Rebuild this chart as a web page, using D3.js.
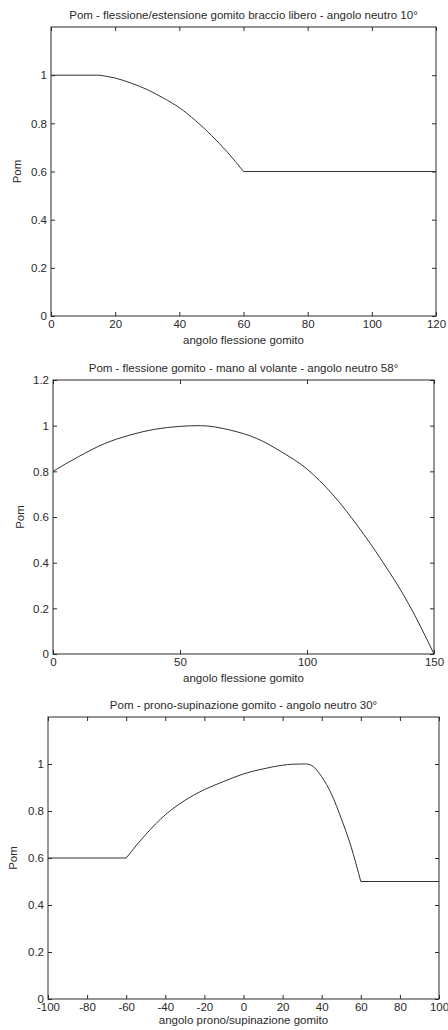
<!DOCTYPE html>
<html>
<head>
<meta charset="utf-8">
<script src="https://cdn.jsdelivr.net/npm/d3@7"></script>
<style>
  html, body { margin: 0; padding: 0; background: #fff; }
  svg { display: block; }
  text { font-family: "Liberation Sans", Arial, sans-serif; fill: #2a2a2a; }
</style>
</head>
<body>
<svg id="fig" width="448" height="1030"></svg>
<script>
// Elbow flexion/extension, free arm (neutral 10°)
const flexAngles = [0, 15, 20, 25, 30, 35, 40, 45, 50, 55, 60, 120];
const flexPom    = [1, 1, 0.988, 0.967, 0.94, 0.905, 0.865, 0.812, 0.75, 0.68, 0.6, 0.6];
const flexKinks  = [15, 60];

// Elbow flexion, hand on steering wheel (neutral 58°)
const wheelAngles = [0, 10, 20, 30, 40, 50, 58, 70, 80, 90, 100, 110, 120, 130, 140, 150];
const wheelPom    = [0.80, 0.864, 0.92, 0.958, 0.984, 0.997, 1.0, 0.98, 0.945, 0.885, 0.81, 0.70, 0.56, 0.40, 0.22, 0];
const wheelKinks  = [];

// Elbow prono-supination (neutral 30°)
const pronoAngles = [-100, -60, -50, -40, -30, -20, -10, 0, 10, 20, 25, 30, 32, 35, 40, 45, 50, 55, 60, 100];
const pronoPom    = [0.6, 0.6, 0.70, 0.784, 0.845, 0.891, 0.926, 0.958, 0.979, 0.995, 0.999, 1, 1, 0.993, 0.946, 0.872, 0.768, 0.649, 0.5, 0.5];
const pronoKinks  = [-60, 60];

// Tick values
const flexTicksX  = [0, 20, 40, 60, 80, 100, 120];
const wheelTicksX = [0, 50, 100, 150];
const pronoTicksX = [-100, -80, -60, -40, -20, 0, 20, 40, 60, 80, 100];
const pomTicks    = [0, 0.2, 0.4, 0.6, 0.8, 1];
const pomTicksFull = [0, 0.2, 0.4, 0.6, 0.8, 1, 1.2];

const titles = [
  "Pom - flessione/estensione gomito braccio libero - angolo neutro 10°",
  "Pom - flessione gomito - mano al volante - angolo neutro 58°",
  "Pom - prono-supinazione gomito - angolo neutro 30°"
];
const xLabels = ["angolo flessione gomito", "angolo flessione gomito", "angolo prono/supinazione gomito"];
const yLabel = "Pom";

const svg = d3.select("#fig");
svg.append("rect").attr("width", 448).attr("height", 1030).attr("fill", "#fff");

// plain hyphen-minus, as in the printed labels
const fmt = d => String(d);

// split a polyline into pieces at its kinks, so each smooth piece keeps sharp corners at the joins
function splitAtKinks(pts, kinks) {
  const pieces = [];
  let cur = [];
  pts.forEach(pt => {
    cur.push(pt);
    if (kinks.includes(pt[0]) && cur.length > 1) {
      pieces.push(cur);
      cur = [pt];
    }
  });
  if (cur.length > 1) pieces.push(cur);
  return pieces;
}

function drawPanel(p) {
  const x = d3.scaleLinear().domain(p.xDomain).range([p.left, p.right]);
  const y = d3.scaleLinear().domain([0, 1.2]).range([p.bottom, p.top]);
  const g = svg.append("g");

  // frame
  g.append("rect")
    .attr("x", p.left).attr("y", p.top)
    .attr("width", p.right - p.left).attr("height", p.bottom - p.top)
    .attr("fill", "#fff").attr("stroke", "#2a2a2a").attr("stroke-width", 1);

  const styleAxis = sel => {
    sel.select(".domain").remove();
    sel.selectAll("line").attr("stroke", "#2a2a2a");
    sel.selectAll("text").attr("font-size", 11.5).attr("fill", "#2a2a2a")
      .style("font-family", "'Liberation Sans', Arial, sans-serif");
  };

  // bottom axis with labels, inward ticks
  g.append("g").attr("transform", `translate(0,${p.bottom})`)
    .call(d3.axisBottom(x).tickValues(p.xTicks).tickFormat(fmt).tickSizeInner(-4).tickSizeOuter(0).tickPadding(4))
    .call(styleAxis);
  // top axis, ticks only
  g.append("g").attr("transform", `translate(0,${p.top})`)
    .call(d3.axisTop(x).tickValues(p.xTicks).tickFormat("").tickSizeInner(-4).tickSizeOuter(0))
    .call(styleAxis);
  // left axis with labels
  g.append("g").attr("transform", `translate(${p.left},0)`)
    .call(d3.axisLeft(y).tickValues(p.yTicks).tickFormat(fmt).tickSizeInner(-4).tickSizeOuter(0).tickPadding(4))
    .call(styleAxis);
  // right axis, ticks only
  g.append("g").attr("transform", `translate(${p.right},0)`)
    .call(d3.axisRight(y).tickValues(p.yTicks).tickFormat("").tickSizeInner(-4).tickSizeOuter(0))
    .call(styleAxis);

  // curve
  const pts = p.xs.map((v, i) => [v, p.ys[i]]);
  const line = d3.line().x(d => x(d[0])).y(d => y(d[1])).curve(d3.curveMonotoneX);
  const d = splitAtKinks(pts, p.kinks).map(piece => line(piece)).join("");
  g.append("path")
    .attr("fill", "none")
    .attr("stroke", "#333")
    .attr("stroke-width", 1)
    .attr("stroke-linejoin", "miter")
    .attr("d", d);

  // title
  g.append("text")
    .attr("x", (p.left + p.right) / 2).attr("y", p.top - 8)
    .attr("text-anchor", "middle").attr("font-size", 11.5)
    .text(p.title);
  // x label
  g.append("text")
    .attr("x", (p.left + p.right) / 2).attr("y", p.bottom + p.xLabelOffset)
    .attr("text-anchor", "middle").attr("font-size", 11.5)
    .text(p.xLabel);
  // y label
  g.append("text")
    .attr("transform", `translate(${p.yLabelX},${(p.top + p.bottom) / 2}) rotate(-90)`)
    .attr("text-anchor", "middle").attr("font-size", 11.5)
    .text(yLabel);
}

drawPanel({
  left: 51, right: 436, top: 27, bottom: 316,
  xDomain: [0, 120], xTicks: flexTicksX, yTicks: pomTicks,
  xs: flexAngles, ys: flexPom, kinks: flexKinks,
  title: titles[0], xLabel: xLabels[0], xLabelOffset: 28, yLabelX: 21
});
drawPanel({
  left: 53, right: 434, top: 380, bottom: 654,
  xDomain: [0, 150], xTicks: wheelTicksX, yTicks: pomTicksFull,
  xs: wheelAngles, ys: wheelPom, kinks: wheelKinks,
  title: titles[1], xLabel: xLabels[1], xLabelOffset: 28, yLabelX: 24
});
drawPanel({
  left: 48, right: 439, top: 717, bottom: 999,
  xDomain: [-100, 100], xTicks: pronoTicksX, yTicks: pomTicks,
  xs: pronoAngles, ys: pronoPom, kinks: pronoKinks,
  title: titles[2], xLabel: xLabels[2], xLabelOffset: 25, yLabelX: 17
});
</script>
</body>
</html>
